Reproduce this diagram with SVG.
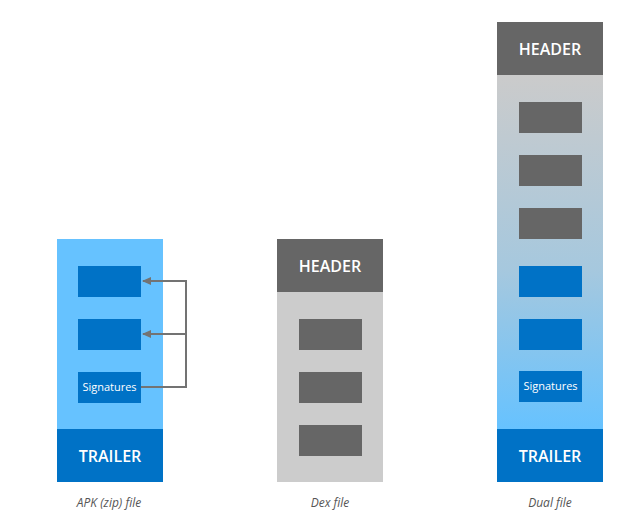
<svg xmlns="http://www.w3.org/2000/svg" width="628" height="531" viewBox="0 0 628 531">
<style>
.lb{fill:#66c2ff}
.db{fill:#0072c6}
.dg{fill:#666666}
.lg{fill:#cccccc}
.t{font-family:"Open Sans","Liberation Sans",sans-serif;fill:#ffffff;text-anchor:middle}
.big{font-size:16px;font-weight:600}
.sm{font-size:11px}
.cap{font-family:"Open Sans","Liberation Sans",sans-serif;font-size:12px;font-style:italic;fill:#555555;text-anchor:middle}
.ln{fill:none;stroke:#737373;stroke-width:2}
</style>
<defs>
<linearGradient id="g" x1="0" y1="0" x2="0" y2="1">
<stop offset="0" stop-color="#cbcbcb"/>
<stop offset="0.55" stop-color="#a6c8de"/>
<stop offset="1" stop-color="#66c2ff"/>
</linearGradient>
<marker id="ah" markerWidth="10" markerHeight="10" refX="8" refY="5" orient="auto" markerUnits="userSpaceOnUse">
<path d="M0,1 L9,5 L0,9 Z" fill="#737373"/>
</marker>
</defs>
<rect width="628" height="531" fill="#ffffff"/>
<g id="apk">
<rect class="lb" x="57" y="239" width="106" height="190"/>
<rect class="db" x="57" y="429" width="106" height="53"/>
<text class="t big" x="110" y="462">TRAILER</text>
<rect class="db" x="78" y="266" width="63" height="31"/>
<rect class="db" x="78" y="319" width="63" height="31"/>
<rect class="db" x="78" y="372" width="63" height="31"/>
<text class="t sm" x="109.5" y="391">Signatures</text>
<text class="cap" x="109" y="507">APK (zip) file</text>
</g>
<g id="dex">
<rect class="lg" x="277" y="292" width="106" height="190"/>
<rect class="dg" x="277" y="239" width="106" height="53"/>
<text class="t big" x="330" y="272">HEADER</text>
<rect class="dg" x="299" y="319" width="63" height="31"/>
<rect class="dg" x="299" y="372" width="63" height="31"/>
<rect class="dg" x="299" y="425" width="63" height="31"/>
<text class="cap" x="330" y="507">Dex file</text>
</g>
<g id="dual">
<rect fill="url(#g)" x="497" y="75" width="106" height="354"/>
<rect class="dg" x="497" y="22" width="106" height="53"/>
<text class="t big" x="550" y="55">HEADER</text>
<rect class="dg" x="519" y="102" width="63" height="31"/>
<rect class="dg" x="519" y="155" width="63" height="31"/>
<rect class="dg" x="519" y="208" width="63" height="31"/>
<rect class="db" x="519" y="266" width="63" height="31"/>
<rect class="db" x="519" y="319" width="63" height="31"/>
<rect class="db" x="519" y="371" width="63" height="31"/>
<text class="t sm" x="550.5" y="390">Signatures</text>
<rect class="db" x="497" y="429" width="106" height="53"/>
<text class="t big" x="550" y="462">TRAILER</text>
<text class="cap" x="550" y="507">Dual file</text>
</g>
<g id="connectors">
<path class="ln" d="M141,387 H186 V281 H143" marker-end="url(#ah)"/>
<path class="ln" d="M186,334 H143" marker-end="url(#ah)"/>
</g>
</svg>
